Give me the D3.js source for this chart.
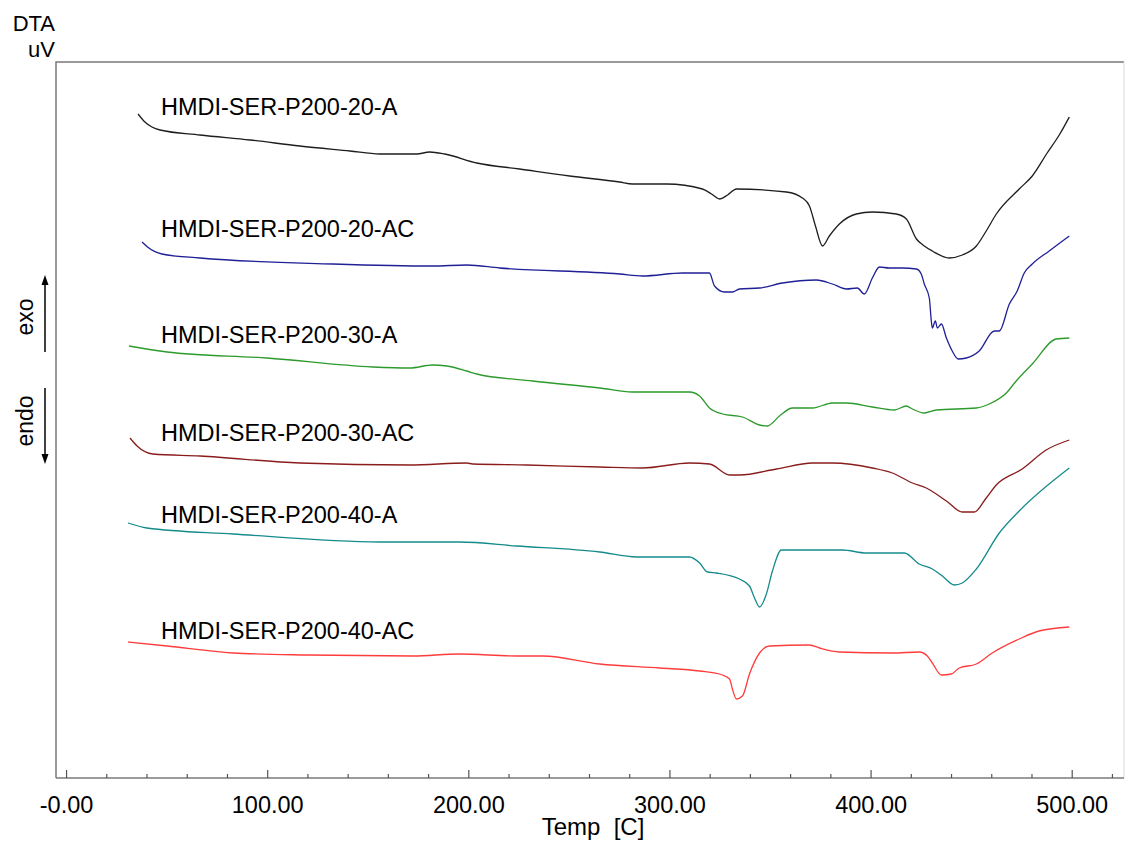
<!DOCTYPE html>
<html>
<head>
<meta charset="utf-8">
<script src="https://cdn.jsdelivr.net/npm/d3@7"></script>
<style>
  html, body { margin: 0; padding: 0; background: #fff; }
  svg { display: block; font-family: "Liberation Sans", Arial, sans-serif; }
</style>
</head>
<body>
<svg id="chart" width="1125" height="853"></svg>
<script>
// DTA thermograms, temperature [C] vs signal [uV]
const seriesNames = [
  "HMDI-SER-P200-20-A",
  "HMDI-SER-P200-20-AC",
  "HMDI-SER-P200-30-A",
  "HMDI-SER-P200-30-AC",
  "HMDI-SER-P200-40-A",
  "HMDI-SER-P200-40-AC"
];

// [temperature, signal] pairs
const dta20A = [
  [35.8,66.4],[39.2,65.6],[42.7,65.1],[46.7,64.8],[66.6,64.3],[91.4,63.8],[116.2,63.2],
  [141.1,62.7],[156.0,62.4],[174.4,62.4],[180.8,62.6],[188.3,62.4],[204.2,61.5],[225.5,60.9],
  [250.4,60.2],[275.2,59.6],[281.7,59.4],[298.6,59.4],[316.4,58.9],[320.9,58.4],[324.9,57.9],
  [328.9,58.3],[333.3,58.9],[358.2,58.6],[366.1,58.0],[369.6,57.2],[372.6,55.2],[376.1,53.2],
  [379.5,54.2],[384.5,55.4],[392.9,56.4],[400.9,56.6],[412.8,56.4],[417.8,55.9],[422.8,53.9],
  [426.7,53.2],[430.7,52.7],[439.1,52.0],[445.6,52.3],[452.6,53.2],[457.5,54.7],[462.5,56.4],
  [473.9,58.9],[480.4,60.2],[487.8,62.5],[493.8,64.3],[498.8,66.1]
];

const dta20AC = [
  [37.8,53.6],[40.5,53.1],[47.7,52.4],[66.6,52.0],[132.6,51.4],[182.3,51.2],[199.2,51.3],
  [215.6,51.0],[275.2,50.4],[286.6,50.2],[306.5,50.5],[319.9,50.5],[322.4,49.2],[327.4,48.6],
  [331.3,48.6],[334.8,48.9],[344.8,49.0],[356.2,49.5],[373.1,49.8],[381.0,49.4],[388.0,48.9],
  [393.4,49.0],[396.9,48.4],[400.9,50.0],[404.4,51.1],[409.3,51.0],[415.8,51.0],[422.8,50.9],
  [425.2,50.4],[426.7,49.4],[429.2,48.0],[430.2,45.7],[430.7,45.0],[432.2,45.7],[433.2,45.0],
  [435.2,45.4],[437.7,44.0],[440.6,42.7],[443.6,41.9],[447.6,42.0],[454.0,42.7],[461.5,44.7],
  [464.0,44.7],[469.0,47.4],[472.9,48.7],[476.4,50.5],[480.4,51.4],[488.8,52.7],[498.8,54.2]
];

const dta30A = [
  [31.3,43.2],[50.2,42.6],[99.9,42.0],[152.5,41.1],[170.9,41.0],[182.3,41.3],[189.3,41.2],
  [199.2,40.7],[204.2,40.4],[232.0,39.7],[265.3,39.0],[281.7,38.6],[310.0,38.6],[315.0,38.2],
  [319.9,37.0],[326.4,36.4],[336.3,36.1],[344.8,35.3],[348.7,35.2],[354.7,36.2],[361.2,37.0],
  [371.1,37.0],[381.0,37.5],[388.0,37.5],[400.9,37.1],[411.8,36.8],[417.8,37.2],[420.8,36.9],
  [426.7,36.5],[432.7,36.8],[452.6,37.0],[459.0,37.4],[467.5,38.5],[472.4,39.7],[480.4,41.4],
  [492.3,43.9],[498.8,44.0]
];

const dta30AC = [
  [31.8,34.0],[35.3,33.2],[43.2,32.4],[66.6,32.2],[116.2,31.5],[170.9,31.3],[199.2,31.5],
  [202.2,31.4],[229.0,31.3],[265.3,31.1],[286.6,31.0],[310.0,31.5],[319.9,31.4],[329.9,30.3],
  [334.8,30.3],[353.2,30.9],[371.1,31.5],[381.0,31.5],[400.9,31.0],[410.8,30.5],[420.8,29.5],
  [427.7,29.0],[437.7,27.7],[445.6,26.6],[451.6,26.6],[457.5,28.0],[462.5,29.3],[475.4,30.9],
  [487.3,32.8],[498.8,33.8]
];

const dta40A = [
  [30.8,25.5],[40.2,25.0],[83.0,24.4],[156.0,23.6],[195.7,23.6],[224.0,23.2],[265.3,22.6],
  [283.7,22.1],[310.0,22.1],[315.0,21.5],[318.9,20.6],[323.4,20.5],[334.8,19.9],[339.8,19.2],
  [342.3,18.0],[344.8,17.1],[348.2,18.4],[351.2,20.7],[355.7,22.8],[386.0,22.8],[397.9,22.5],
  [416.8,22.5],[424.2,21.4],[430.7,20.9],[435.7,20.2],[441.6,19.3],[445.6,19.5],[452.6,20.9],
  [464.0,24.5],[473.9,26.7],[498.8,31.0]
];

const dta40AC = [
  [30.8,13.6],[50.2,13.2],[83.0,12.5],[119.7,12.3],[172.4,12.2],[195.7,12.4],[224.0,12.2],
  [237.0,12.2],[265.3,11.4],[295.1,11.0],[315.0,10.7],[326.4,10.3],[329.9,9.9],[331.3,8.9],
  [333.3,7.9],[336.3,8.2],[339.8,10.4],[344.8,12.5],[349.7,13.2],[369.6,13.3],[374.6,13.0],
  [384.5,12.6],[410.8,12.5],[424.2,12.6],[428.2,12.2],[430.7,11.5],[435.2,10.3],[440.1,10.4],
  [444.1,11.0],[452.6,11.4],[460.5,12.5],[473.9,13.9],[483.8,14.7],[498.8,15.1]
];

const seriesData = [dta20A, dta20AC, dta30A, dta30AC, dta40A, dta40AC];
const seriesColors = ["#1e1e1e", "#1f1f96", "#2c9a2c", "#8a1c1c", "#178b8b", "#ff3c3c"];

const majorTicks = [0, 100, 200, 300, 400, 500];
const majorTickLabels = ["-0.00", "100.00", "200.00", "300.00", "400.00", "500.00"];
const minorTicks = [20, 40, 60, 80, 120, 140, 160, 180, 220, 240, 260, 280,
                    320, 340, 360, 380, 420, 440, 460, 480, 520];

// ---- layout ----
const plot = { left: 56, right: 1124, top: 62, bottom: 778 };
const labelX = 161;
const labelBaselines = [115, 237, 343, 441, 523, 639];
const font = "\"Liberation Sans\", Arial, sans-serif";

const svg = d3.select("#chart");

const x = d3.scaleLinear().domain([-5, 526]).range([plot.left, plot.right]);
const y = d3.scaleLinear().domain([0, 71.6]).range([plot.bottom, plot.top]);

// frame: left and top edges dark, right edge faint
const frameColor = "#7a7a7a";
svg.append("path")
  .attr("d", `M${plot.left},${plot.bottom}V${plot.top}H${plot.right}`)
  .attr("fill", "none").attr("stroke", frameColor).attr("stroke-width", 1.5);
svg.append("line")
  .attr("x1", plot.right).attr("x2", plot.right)
  .attr("y1", plot.top).attr("y2", plot.bottom)
  .attr("stroke", "#d8d8d8").attr("stroke-width", 1);

// x axis with inward ticks
const axisG = svg.append("g").attr("transform", `translate(0,${plot.bottom})`);
axisG.append("line")
  .attr("x1", plot.left).attr("x2", plot.right)
  .attr("stroke", frameColor).attr("stroke-width", 1.5);

const xAxisMajor = d3.axisBottom(x)
  .tickValues(majorTicks)
  .tickSize(-8)
  .tickPadding(18)
  .tickFormat((d, i) => majorTickLabels[i]);
const gMaj = axisG.append("g").call(xAxisMajor);
gMaj.select(".domain").remove();
gMaj.selectAll(".tick line").attr("stroke", "#555").attr("stroke-width", 1.2);
gMaj.selectAll(".tick text")
  .attr("fill", "#000")
  .style("font-family", font).style("font-size", "23.5px")
  .attr("dy", "0.71em");

const xAxisMinor = d3.axisBottom(x).tickValues(minorTicks).tickSize(-4).tickFormat("");
const gMin = axisG.append("g").call(xAxisMinor);
gMin.select(".domain").remove();
gMin.selectAll(".tick line").attr("stroke", "#555").attr("stroke-width", 1.2);

// axis titles
svg.append("text")
  .attr("x", 593).attr("y", 835)
  .attr("text-anchor", "middle")
  .style("font-family", font).style("font-size", "24px")
  .style("white-space", "pre")
  .attr("xml:space", "preserve")
  .text("Temp  [C]");

svg.append("text").attr("x", 55).attr("y", 31).attr("text-anchor", "end")
  .style("font-family", font).style("font-size", "22px").text("DTA");
svg.append("text").attr("x", 55).attr("y", 57).attr("text-anchor", "end")
  .style("font-family", font).style("font-size", "22px").text("uV");

// exo / endo direction markers
svg.append("text")
  .attr("transform", "translate(33,317) rotate(-90)")
  .attr("text-anchor", "middle")
  .style("font-family", font).style("font-size", "23px").text("exo");
svg.append("text")
  .attr("transform", "translate(33,421) rotate(-90)")
  .attr("text-anchor", "middle")
  .style("font-family", font).style("font-size", "23px").text("endo");

function arrow(x0, yFrom, yTo) {
  const dir = yTo < yFrom ? -1 : 1;
  const headLen = 10, headHalf = 3.5;
  svg.append("line")
    .attr("x1", x0).attr("x2", x0)
    .attr("y1", yFrom).attr("y2", yTo - dir * headLen)
    .attr("stroke", "#000").attr("stroke-width", 1.5);
  svg.append("path")
    .attr("d", `M${x0},${yTo}L${x0 - headHalf},${yTo - dir * headLen}L${x0 + headHalf},${yTo - dir * headLen}Z`)
    .attr("fill", "#000");
}
arrow(45, 352, 275);
arrow(45, 388, 464);

// curves
const line = d3.line()
  .x(d => x(d[0]))
  .y(d => y(d[1]))
  .curve(d3.curveMonotoneX);

svg.append("g").selectAll("path")
  .data(seriesData)
  .join("path")
  .attr("d", d => line(d))
  .attr("fill", "none")
  .attr("stroke", (d, i) => seriesColors[i])
  .attr("stroke-width", 1.3)
  .attr("stroke-linejoin", "round");

// series labels
svg.append("g").selectAll("text")
  .data(seriesNames)
  .join("text")
  .attr("x", labelX)
  .attr("y", (d, i) => labelBaselines[i])
  .attr("fill", "#000")
  .style("font-family", font).style("font-size", "23.5px")
  .text(d => d);
</script>
</body>
</html>
